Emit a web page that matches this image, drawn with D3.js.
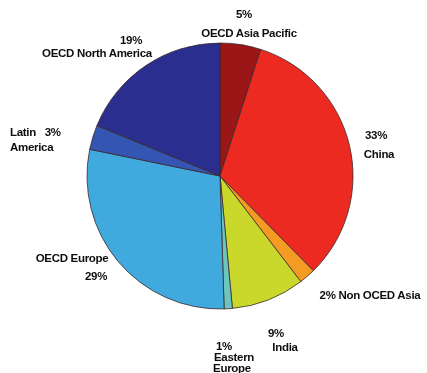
<!DOCTYPE html>
<html>
<head>
<meta charset="utf-8">
<script src="https://cdn.jsdelivr.net/npm/d3@7"></script>
<style>
  html, body { margin: 0; padding: 0; background: #ffffff; }
  svg { display: block; }
  text { font-family: "Liberation Sans", Arial, sans-serif; font-weight: bold; fill: #111; white-space: pre; }
</style>
</head>
<body>
<svg id="chart" width="427" height="373"></svg>
<script>
// Share of demand by region, clockwise from the top
const regions = ["OECD Asia Pacific", "China", "Non OCED Asia", "India", "Eastern Europe",
                 "OECD Europe", "Latin America", "OECD North America"];
const shares  = [5, 33, 2, 9, 1, 29, 3, 19];
const colors  = ["#9b1518", "#ec2a24", "#f59a23", "#c9d82c", "#6cc6c0",
                 "#41a9de", "#3654b2", "#2a2e8e"];

// Label lines per slice: [text, x, y, anchor]
const labelLines = [
  [["5%", 244, 18, "middle"], ["OECD Asia Pacific", 249, 37, "middle"]],
  [["33%", 376, 139, "middle"], ["China", 379, 158, "middle"]],
  [["2% Non OCED Asia", 370, 299, "middle"]],
  [["9%", 276, 337, "middle"], ["India", 285, 351, "middle"]],
  [["1%", 224, 350, "middle"], ["Eastern", 234, 361, "middle"], ["Europe", 232, 372, "middle"]],
  [["OECD Europe", 72, 262, "middle"], ["29%", 96, 280, "middle"]],
  [["Latin   3%", 10, 136, "start"], ["America", 10, 151, "start"]],
  [["19%", 131, 44, "middle"], ["OECD North America", 97, 57, "middle"]]
];

const cx = 220, cy = 176, r = 133;
const svg = d3.select("#chart");

const defs = svg.append("defs");
defs.append("filter").attr("id", "soft")
  .append("feGaussianBlur").attr("stdDeviation", 0.45);

const pie = d3.pie().sort(null).value(d => d)(shares);
const arc = d3.arc().innerRadius(0).outerRadius(r);

const g = svg.append("g")
  .attr("transform", `translate(${cx},${cy})`)
  .attr("filter", "url(#soft)");

g.selectAll("path")
  .data(pie)
  .join("path")
  .attr("d", arc)
  .attr("fill", (d, i) => colors[i])
  .attr("stroke", "#3a2a2a")
  .attr("stroke-width", 0.8);

const labels = svg.append("g").attr("filter", "url(#soft)");
labelLines.forEach(lines => {
  lines.forEach(([t, x, y, anchor]) => {
    labels.append("text")
      .attr("x", x).attr("y", y)
      .attr("text-anchor", anchor)
      .attr("font-size", 11.5)
      .attr("letter-spacing", -0.3)
      .text(t);
  });
});
</script>
</body>
</html>
